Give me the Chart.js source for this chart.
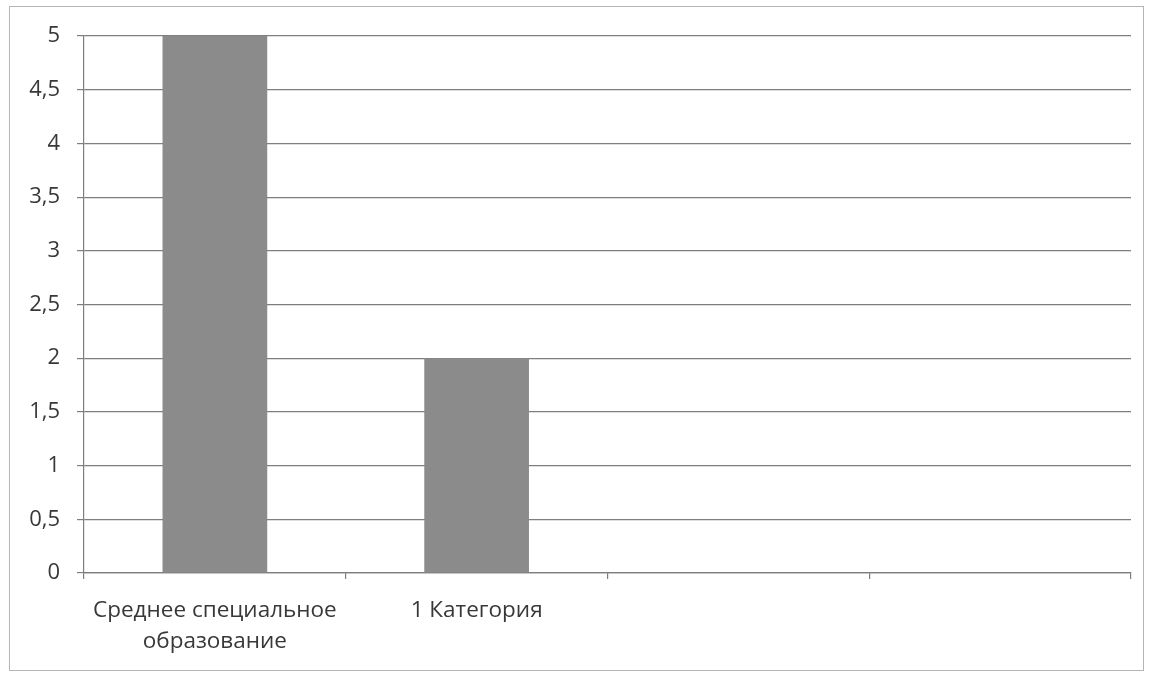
<!DOCTYPE html>
<html>
<head>
<meta charset="utf-8">
<script src="https://cdn.jsdelivr.net/npm/chart.js@4.4.1/dist/chart.umd.min.js"></script>
<style>
  body { margin: 0; background: #fff; }
  #wrap { position: relative; width: 1153px; height: 673px; }
  #frame { position: absolute; left: 9px; top: 6px; width: 1133px; height: 663px; border: 1px solid #b5b5b5; pointer-events: none; }
  canvas { position: absolute; left: 0; top: 0; }
</style>
</head>
<body>
<div id="wrap">
  <canvas id="chart" width="1153" height="673"></canvas>
  <div id="frame"></div>
</div>
<script>
/* ---------- DATA ---------- */
const categories = [['Среднее специальное', 'образование'], '1 Категория', '', ''];
const values = [5, 2, null, null];
const yMin = 0;
const yMax = 5;
const yStep = 0.5;

/* ---------- CHART ---------- */
const gridGray = '#7e7e7e';
const textGray = '#383838';

new Chart(document.getElementById('chart'), {
  type: 'bar',
  data: {
    labels: categories,
    datasets: [{
      data: values,
      backgroundColor: '#8b8b8b',
      borderWidth: 0,
      categoryPercentage: 1,
      barPercentage: 0.4
    }]
  },
  options: {
    responsive: false,
    animation: false,
    layout: { padding: { left: 0, right: 22, top: 36, bottom: 0 } },
    plugins: { legend: { display: false }, tooltip: { enabled: false } },
    scales: {
      x: {
        grid: { drawOnChartArea: false, color: gridGray, tickLength: 6, lineWidth: 1.2 },
        border: { color: gridGray, width: 1.2 },
        ticks: {
          color: textGray,
          font: { family: 'Open Sans', size: 22.5, lineHeight: 1.34 },
          padding: 17,
          maxRotation: 0,
          autoSkip: false
        },
        afterFit: s => { s.height = 100; }
      },
      y: {
        min: yMin,
        max: yMax,
        grid: { color: gridGray, tickLength: 7, lineWidth: 1.2 },
        border: { color: gridGray, width: 1.2 },
        ticks: {
          stepSize: yStep,
          color: textGray,
          font: { family: 'Open Sans', size: 22 },
          padding: 17,
          callback: v => String(v).replace('.', ',')
        },
        afterFit: s => { s.width = 84; }
      }
    }
  }
});
</script>
</body>
</html>
